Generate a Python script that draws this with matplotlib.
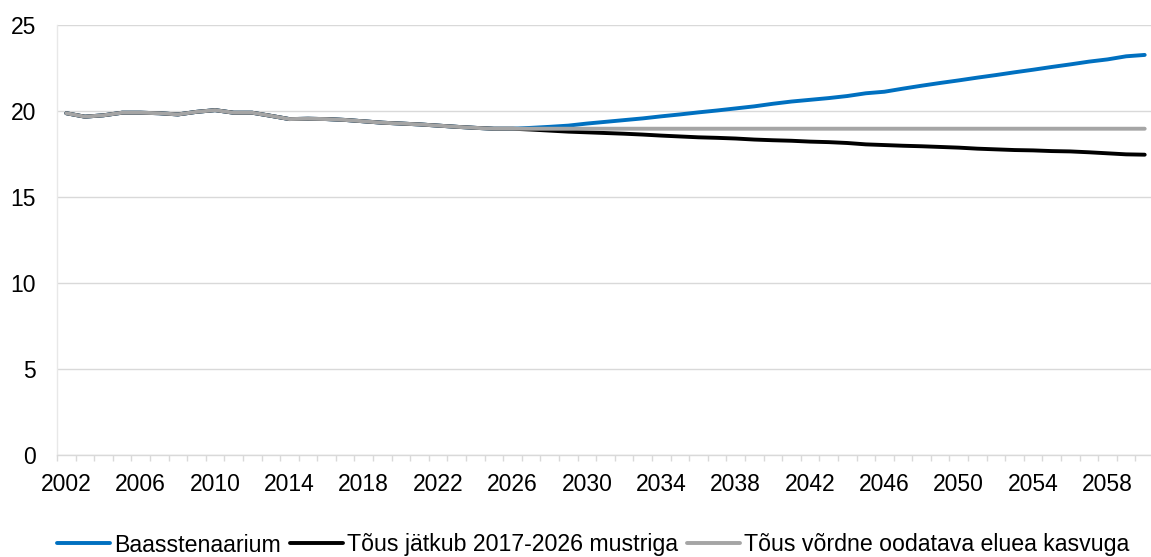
import matplotlib
matplotlib.use("Agg")
import matplotlib.pyplot as plt
import numpy as np

plt.rcParams['font.family'] = ['Liberation Sans', 'DejaVu Sans']

years = list(range(2002, 2061))

# ühine ajalooline osa 2002-2026
hist = [19.87, 19.67, 19.75, 19.90, 19.90, 19.87, 19.80, 19.95, 20.05, 19.90,
        19.90, 19.72, 19.53, 19.55, 19.53, 19.48, 19.40, 19.32, 19.27, 19.22,
        19.15, 19.08, 19.02, 18.97, 18.97]

# prognoosid 2027-2060
base_proj = [19.02, 19.08, 19.15, 19.27, 19.37, 19.47, 19.57, 19.69, 19.80, 19.92,
             20.03, 20.15, 20.27, 20.42, 20.55, 20.65, 20.75, 20.87, 21.03, 21.12,
             21.30, 21.47, 21.63, 21.78, 21.94, 22.09, 22.25, 22.40, 22.56, 22.71,
             22.87, 23.00, 23.18, 23.26]
trend_proj = [18.92, 18.86, 18.80, 18.76, 18.72, 18.68, 18.63, 18.57, 18.52, 18.47,
              18.44, 18.40, 18.34, 18.30, 18.27, 18.22, 18.19, 18.14, 18.06, 18.02,
              17.98, 17.95, 17.91, 17.87, 17.81, 17.77, 17.73, 17.71, 17.67, 17.65,
              17.60, 17.54, 17.48, 17.46]
life_proj = [18.97, 18.97, 18.97, 18.97, 18.97, 18.97, 18.97, 18.97, 18.97, 18.97,
             18.97, 18.97, 18.97, 18.97, 18.97, 18.97, 18.97, 18.97, 18.97, 18.97,
             18.97, 18.97, 18.97, 18.97, 18.97, 18.97, 18.97, 18.97, 18.97, 18.97,
             18.97, 18.97, 18.97, 18.97]

labels = ["Baasstenaarium", "Tõus jätkub 2017-2026 mustriga",
          "Tõus võrdne oodatava eluea kasvuga"]
colors = ["#0070C0", "#000000", "#A5A5A5"]

series = [hist + base_proj, hist + trend_proj, hist + life_proj]

fig = plt.figure(figsize=(11.51, 5.57), dpi=100)
ax = fig.add_axes([57 / 1151, 1 - 455 / 557, 1097 / 1151, 430 / 557])

x = np.arange(len(years))
lines = []
for vals, col, lab, z in zip(series, colors, labels, [3, 4, 5]):
    ln, = ax.plot(x, vals, color=col, lw=2.8, label=lab, zorder=z,
                  solid_capstyle='round', solid_joinstyle='round')
    lines.append(ln)

ax.set_ylim(0, 25)
ax.set_yticks([0, 5, 10, 15, 20, 25])
ax.set_xlim(-0.5, len(years) - 0.5)
ax.set_xticks(x[::4])
ax.set_xticklabels([str(y) for y in years[::4]])
ax.set_xticks(np.arange(-0.5, len(years)), minor=True)

ax.grid(axis='y', color='#D9D9D9', lw=1)
ax.set_axisbelow(True)
for s in ['top', 'right']:
    ax.spines[s].set_visible(False)
ax.spines['left'].set_color('#E8E8E8')
ax.spines['bottom'].set_color('#D9D9D9')
ax.spines['left'].set_linewidth(1)
ax.spines['bottom'].set_linewidth(1)

ax.tick_params(axis='x', which='major', length=0, pad=13, labelsize=16.5)
ax.tick_params(axis='x', which='minor', length=4, color='#D9D9D9', width=1)
ax.tick_params(axis='y', length=0, pad=15, labelsize=16.5)

fig.legend(lines, labels, loc='center left', bbox_to_anchor=(57 / 1151, 12 / 557),
           ncol=3, frameon=False, fontsize=16.7, handlelength=2.3,
           handletextpad=0.15, columnspacing=0.4, borderpad=0, borderaxespad=0)

fig.savefig("out.png", dpi=100)
